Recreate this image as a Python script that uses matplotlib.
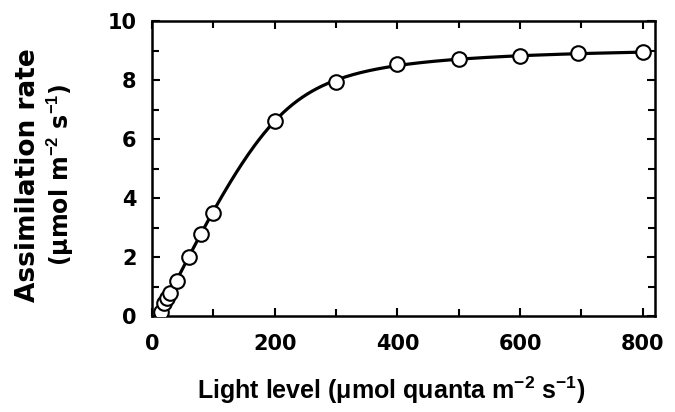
import numpy as np
import matplotlib
matplotlib.use("Agg")
import matplotlib.pyplot as plt
from matplotlib.ticker import MultipleLocator

# light level and assimilation rate
luz = [15, 20, 25, 30, 40, 60, 80, 100, 200, 300, 400, 500, 600, 695, 800]
assim = [0.14, 0.43, 0.6, 0.78, 1.2, 2.0, 2.77, 3.48, 6.61, 7.93, 8.54, 8.70, 8.82, 8.93, 8.95]

plt.rcParams["font.family"] = ["DejaVu Sans"]
plt.rcParams["font.weight"] = "bold"
plt.rcParams["mathtext.fontset"] = "custom"
plt.rcParams["mathtext.rm"] = "Liberation Sans"
plt.rcParams["mathtext.default"] = "regular"

x = np.array(luz, dtype=float)
y = np.array(assim, dtype=float)


# curva hiperbole nao retangular ajustada aos pontos
def nrh(I, phi, pmax, theta, rd):
    b = phi * I + pmax
    return (b - np.sqrt(b ** 2 - 4 * theta * phi * I * pmax)) / (2 * theta) - rd


melhor = None
for phi in np.linspace(0.03, 0.06, 31):
    for pmax in np.linspace(8.5, 10.5, 41):
        for theta in np.linspace(0.5, 0.99, 50):
            for rd in np.linspace(0.0, 1.0, 21):
                erro = np.sum((nrh(x, phi, pmax, theta, rd) - y) ** 2)
                if melhor is None or erro < melhor[0]:
                    melhor = (erro, phi, pmax, theta, rd)

xc = np.linspace(x.min(), x.max(), 400)
yc = nrh(xc, *melhor[1:])

fig = plt.figure(figsize=(6.75, 4.12), dpi=100)
ax = fig.add_axes([0.2252, 0.233, 0.7452, 0.716])

ax.plot(xc, yc, color="black", lw=2.3, zorder=2)
ax.plot(x, y, "o", ms=10.5, mfc="white", mec="black", mew=1.5, zorder=3)

ax.set_xlim(0, 820)
ax.set_ylim(0, 10)
ax.xaxis.set_major_locator(MultipleLocator(200))
ax.xaxis.set_minor_locator(MultipleLocator(100))
ax.yaxis.set_major_locator(MultipleLocator(2))
ax.yaxis.set_minor_locator(MultipleLocator(1))
ax.tick_params(which="both", direction="in", top=True, right=True, width=1.5,
               labelsize=15)
ax.tick_params(axis="x", pad=13)
ax.tick_params(axis="y", pad=11)
ax.tick_params(which="major", length=6)
ax.tick_params(which="minor", length=5)
for s in ax.spines.values():
    s.set_linewidth(1.8)

# titulos dos eixos
fig.text(0.579, 0.032, "Light level (\u03bcmol quanta m$^{\\mathrm{-2}}$ s$^{\\mathrm{-1}}$)",
         fontsize=18, fontweight="bold", family="Liberation Sans",
         ha="center", va="baseline")
fig.text(0.041, 0.575, "Assimilation rate", fontsize=19, fontweight="bold",
         rotation=90, ha="center", va="center")
fig.text(0.089, 0.575, "(\u03bcmol m$^{\\mathrm{-2}}$ s$^{\\mathrm{-1}}$)", fontsize=17,
         fontweight="bold", rotation=90, ha="center", va="center")

fig.savefig("out.png", dpi=100)
